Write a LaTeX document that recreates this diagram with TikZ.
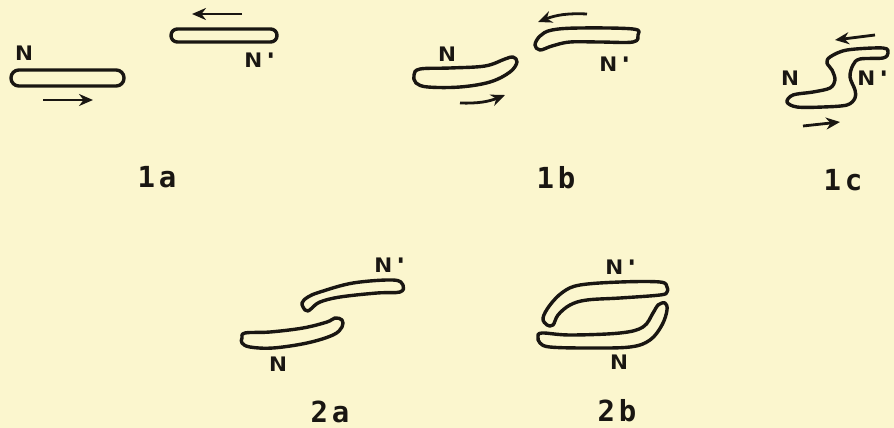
\documentclass[tikz,border=0pt]{standalone}
\usepackage{fontspec}
\newfontfamily\typefont{DejaVu Sans Mono}
\newfontfamily\endfont[FakeStretch=1.45]{DejaVu Sans Mono}
\usetikzlibrary{arrows.meta}

\definecolor{paper}{RGB}{251,246,206}
\definecolor{ink}{RGB}{25,22,18}

\tikzset{
  strand/.style={draw=ink, line width=1.7pt, line join=round},
  sense/.style={draw=ink, line width=1.4pt, -{Stealth[length=7pt,width=6pt]}},
  endlabel/.style={text=ink, inner sep=0pt,
                   font=\endfont\bfseries\fontsize{10}{10}\selectfont},
  figlabel/.style={text=ink, inner sep=0pt,
                   font=\typefont\bfseries\fontsize{14.5}{14.5}\selectfont}
}

\begin{document}
\begin{tikzpicture}[x=0.5pt, y=-0.5pt]
  \fill[paper] (0,0) rectangle (894,428);
  \clip (0,0) rectangle (894,428);

  % 1a: two straight strands, opposite sense
  \draw[strand, rounded corners=3.9pt] (11,70) rectangle (124,86);
  \draw[strand, rounded corners=3.2pt] (171,29) rectangle (277,42);
  \node[endlabel] (n1a)  at (24,53)  {N};
  \node[endlabel] (np1a) at (262,60) {N'};
  \coordinate (a1s) at (43,100);  \coordinate (a1e) at (93,100);
  \coordinate (b1s) at (242,14);  \coordinate (b1e) at (192,14);
  \draw[sense] (a1s) -- (a1e);
  \draw[sense] (b1s) -- (b1e);
  \node[figlabel] (f1a) at (157,177) {1\hspace{2pt}a};

  % 1b: the ends begin to bend towards each other
  \draw[strand] plot[smooth cycle, tension=0.6] coordinates {
    (420,69) (450,68) (485,66) (505,59) (513,57) (517,62) (510,72)
    (490,82) (460,87) (428,87) (416,83) (414,75)};
  \draw[strand] plot[smooth cycle, tension=0.6] coordinates {
    (552,30) (580,28) (633,29) (638,35) (633,42) (600,42) (570,42)
    (552,46) (540,50) (535,45) (540,36)};
  \node[endlabel] (n1b)  at (447,54) {N};
  \node[endlabel] (np1b) at (617,64) {N'};
  \coordinate (a2s) at (460,103); \coordinate (a2e) at (505,95);
  \coordinate (b2s) at (587,14);  \coordinate (b2e) at (538,22);
  \draw[sense] (a2s) to[bend right=12] (a2e);
  \draw[sense] (b2s) to[bend right=12] (b2e);
  \node[figlabel] (f1b) at (556,178) {1\hspace{2pt}b};

  % 1c: joined into one S-shaped strand
  \draw[strand] plot[smooth cycle, tension=0.55] coordinates {
    (830,57) (847,50) (883,48) (888,53) (883,58) (860,59) (853,65)
    (850,77) (855,90) (855,98) (847,105) (823,107) (797,107) (787,102)
    (793,95) (813,92) (830,88) (835,80) (832,70) (827,63)};
  \node[endlabel] (n1c)  at (790,78) {N};
  \node[endlabel, anchor=east] (np1c) at (893,78) {N'};
  \coordinate (a3s) at (803,126); \coordinate (a3e) at (840,122);
  \coordinate (b3s) at (875,35);  \coordinate (b3e) at (835,40);
  \draw[sense] (a3s) -- (a3e);
  \draw[sense] (b3s) -- (b3e);
  \node[figlabel] (f1c) at (843,180) {1\hspace{2pt}c};

  % 2a: hooked ends side by side
  \draw[strand] plot[smooth cycle, tension=0.6] coordinates {
    (305,310) (302,303) (308,297) (320,292) (353,283) (393,280) (403,285)
    (400,292) (377,293) (340,297) (320,302) (312,308) (308,311)};
  \draw[strand] plot[smooth cycle, tension=0.6] coordinates {
    (242,338) (245,333) (270,332) (303,328) (327,322) (335,318) (342,320)
    (342,327) (333,335) (307,343) (273,348) (250,347) (242,343)};
  \node[endlabel] (np2a) at (392,265) {N'};
  \node[endlabel] (n2a)  at (278,364) {N};
  \node[figlabel] (f2a) at (330,412) {2\hspace{2pt}a};

  % 2b: hooked ends overlapping
  \draw[strand] plot[smooth cycle, tension=0.6] coordinates {
    (667,287) (660,282) (620,282) (580,285) (563,292) (550,305) (543,318)
    (547,325) (553,325) (558,315) (570,305) (587,300) (620,298) (660,295)
    (667,292)};
  \draw[strand] plot[smooth cycle, tension=0.6] coordinates {
    (538,337) (542,333) (570,335) (620,333) (643,327) (653,313) (658,305)
    (665,303) (667,310) (662,325) (650,340) (630,347) (587,348) (550,347)
    (540,343)};
  \node[endlabel] (np2b) at (623,267) {N'};
  \node[endlabel] (n2b)  at (619,362) {N};
  \node[figlabel] (f2b) at (617,411) {2\hspace{2pt}b};
\end{tikzpicture}
\end{document}
